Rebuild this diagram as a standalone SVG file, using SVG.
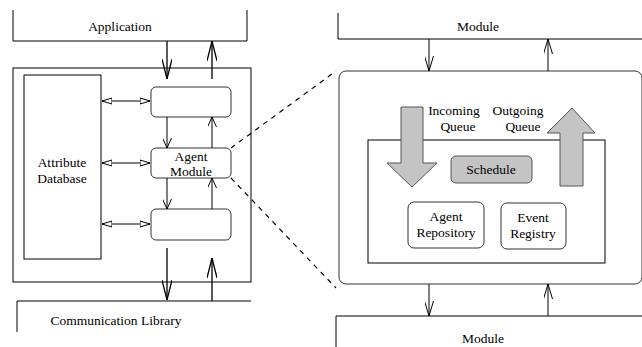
<svg xmlns="http://www.w3.org/2000/svg" width="642" height="347" viewBox="0 0 642 347">
<defs>
<marker id="v" viewBox="0 0 10 9" refX="10" refY="4.5" markerWidth="10" markerHeight="9" markerUnits="userSpaceOnUse" orient="auto">
<path d="M0,0 L10,4.5 L0,9" fill="none" stroke="#000" stroke-width="1"/>
</marker>
<marker id="vm" viewBox="0 0 15 9" refX="15" refY="4.5" markerWidth="15" markerHeight="9" markerUnits="userSpaceOnUse" orient="auto">
<path d="M0,0 L15,4.5 L0,9" fill="none" stroke="#000" stroke-width="1"/>
</marker>
<marker id="vb" viewBox="0 0 20 10" refX="20" refY="5" markerWidth="20" markerHeight="10" markerUnits="userSpaceOnUse" orient="auto">
<path d="M0,0 L20,5 L0,10" fill="none" stroke="#000" stroke-width="1.3"/>
</marker>
<marker id="tri" viewBox="0 0 10 8" refX="10" refY="4" markerWidth="10" markerHeight="8" markerUnits="userSpaceOnUse" orient="auto-start-reverse">
<path d="M0,1 L10,4 L0,7 Z" fill="#fff" stroke="#000" stroke-width="1"/>
</marker>
</defs>
<style>
text{font-family:"Liberation Serif","Times New Roman",serif;font-size:13.5px;fill:#000;text-anchor:middle}
.box{fill:#fff;stroke:#000;stroke-width:1}
.open{fill:none;stroke:#000;stroke-width:1}
.r{fill:#fff;stroke:#333;stroke-width:1}
.g{fill:#c4c4c4;stroke:#555;stroke-width:1}
.c{stroke:#000;stroke-width:1;fill:none}
.cb{stroke:#000;stroke-width:1.3;fill:none}
.d{stroke:#000;stroke-width:1.2;stroke-dasharray:5,5;fill:none}
</style>
<g id="application"><path class="open" d="M13,10 V41 H247 V10"/><text x="120" y="31">Application</text></g>
<g id="left-container"><rect class="box" x="13" y="68" width="238" height="214"/></g>
<g id="attribute-db"><rect class="box" x="24" y="75" width="77" height="184"/><text x="62" y="167">Attribute</text><text x="62" y="183">Database</text></g>
<g id="top-box"><rect class="r" x="151" y="87" width="80" height="30" rx="5"/></g>
<g id="agent-module"><rect class="r" x="151" y="148" width="80" height="30" rx="5"/><text x="191" y="161">Agent</text><text x="191" y="176">Module</text></g>
<g id="bottom-box"><rect class="r" x="151" y="209" width="80" height="31" rx="5"/></g>
<g id="comm-lib"><path class="open" d="M17,332 V301 H251"/><text x="116" y="325">Communication Library</text></g>
<g id="module-top"><path class="open" d="M338,13 V39 H642"/><text x="478" y="31">Module</text></g>
<g id="module-detail"><rect class="r" x="339" y="71" width="303" height="213" rx="7"/></g>
<g id="inner"><rect class="box" x="368" y="140" width="237" height="123"/></g>
<g id="incoming-queue"><path class="g" d="M401,107 H423 V163 H437 L412,187 L387,163 H401 Z"/><text x="454" y="115">Incoming</text><text x="458" y="131">Queue</text></g>
<g id="outgoing-queue"><path class="g" d="M560,186 V133 H547 L572,108 L595,133 H583 V186 Z"/><text x="518" y="115">Outgoing</text><text x="523" y="131">Queue</text></g>
<g id="schedule"><rect class="g" x="451" y="156" width="81" height="27" rx="5"/><text x="491" y="174">Schedule</text></g>
<g id="agent-repo"><rect class="r" x="408" y="202" width="76" height="46" rx="6"/><text x="446" y="221">Agent</text><text x="446" y="237">Repository</text></g>
<g id="event-registry"><rect class="r" x="501" y="203" width="65" height="46" rx="6"/><text x="533" y="222">Event</text><text x="533" y="238">Registry</text></g>
<g id="module-bottom"><path class="open" d="M336,347 V316 H642"/><text x="483" y="343">Module</text></g>
<g id="connectors">
<line class="cb" x1="167" y1="41" x2="167" y2="79" marker-end="url(#vb)"/>
<line class="cb" x1="212" y1="79" x2="212" y2="41" marker-end="url(#vb)"/>
<line class="c" x1="167" y1="117" x2="167" y2="148" marker-end="url(#v)"/>
<line class="c" x1="212" y1="148" x2="212" y2="117" marker-end="url(#v)"/>
<line class="c" x1="167" y1="178" x2="167" y2="209" marker-end="url(#v)"/>
<line class="c" x1="212" y1="209" x2="212" y2="178" marker-end="url(#v)"/>
<line class="cb" x1="167" y1="248" x2="167" y2="300" marker-end="url(#vb)"/>
<line class="cb" x1="212" y1="301" x2="212" y2="258" marker-end="url(#vb)"/>
<line class="c" x1="102" y1="101" x2="150" y2="101" marker-start="url(#tri)" marker-end="url(#tri)"/>
<line class="c" x1="102" y1="163" x2="150" y2="163" marker-start="url(#tri)" marker-end="url(#tri)"/>
<line class="c" x1="102" y1="224" x2="150" y2="224" marker-start="url(#tri)" marker-end="url(#tri)"/>
<line class="d" x1="231" y1="148" x2="336" y2="71"/>
<line class="d" x1="231" y1="178" x2="336" y2="288"/>
<line class="c" x1="429" y1="39" x2="429" y2="71" marker-end="url(#vm)"/>
<line class="c" x1="548" y1="71" x2="548" y2="39" marker-end="url(#vm)"/>
<line class="c" x1="429" y1="284" x2="429" y2="316" marker-end="url(#vm)"/>
<line class="c" x1="548" y1="316" x2="548" y2="284" marker-end="url(#vm)"/>
</g>
</svg>
